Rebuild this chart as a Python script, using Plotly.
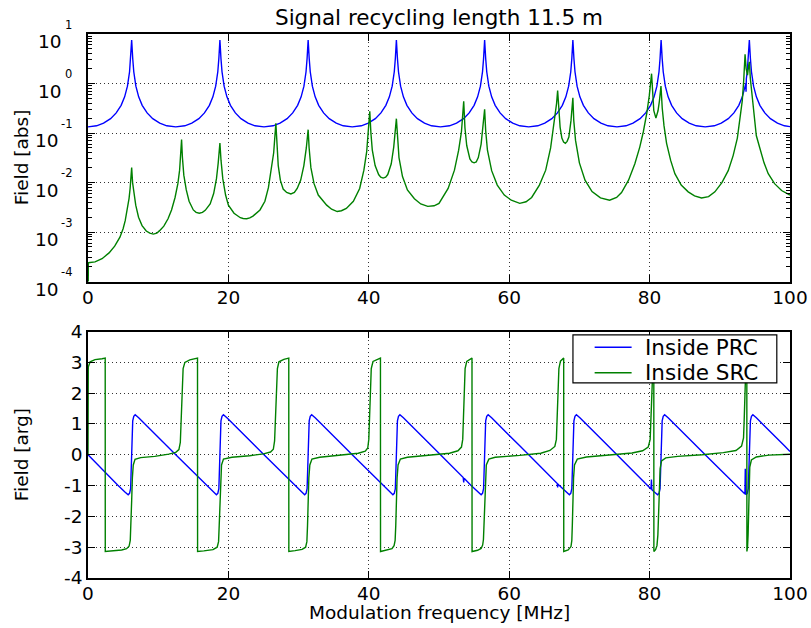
import plotly.graph_objects as go

# ---------------- data ----------------
# |field| inside the power-recycling cavity (PRC)
prc_abs_freq = [
    0.0, 1.22, 2.22, 3.22, 4.02, 4.72, 5.22, 5.62, 5.92, 6.07, 6.22, 6.37, 6.52, 6.82, 7.22, 7.72, 8.42, 9.22, 10.22, 11.22,
    12.5, 13.79, 14.79, 15.79, 16.59, 17.29, 17.79, 18.19, 18.49, 18.64, 18.79, 18.94, 19.09, 19.39, 19.79, 20.29, 20.99, 21.79, 22.79, 23.79,
    25.07, 26.36, 27.36, 28.36, 29.16, 29.86, 30.36, 30.76, 31.06, 31.21, 31.36, 31.51, 31.66, 31.96, 32.36, 32.86, 33.56, 34.36, 35.36, 36.36,
    37.64, 38.93, 39.93, 40.93, 41.73, 42.43, 42.93, 43.33, 43.63, 43.78, 43.93, 44.08, 44.23, 44.53, 44.93, 45.43, 46.13, 46.93, 47.93, 48.93,
    50.21, 51.5, 52.5, 53.5, 54.3, 55.0, 55.5, 55.9, 56.2, 56.35, 56.5, 56.65, 56.8, 57.1, 57.5, 58.0, 58.7, 59.5, 60.5, 61.5,
    62.78, 64.07, 65.07, 66.07, 66.87, 67.57, 68.07, 68.47, 68.77, 68.92, 69.07, 69.22, 69.37, 69.67, 70.07, 70.57, 71.27, 72.07, 73.07, 74.07,
    75.35, 76.64, 77.64, 78.64, 79.44, 80.14, 80.64, 81.04, 81.34, 81.49, 81.64, 81.79, 81.94, 82.24, 82.64, 83.14, 83.84, 84.64, 85.64, 86.64,
    87.92, 89.21, 90.21, 91.21, 92.01, 92.71, 93.21, 93.61, 93.70, 93.74, 93.78, 93.91, 94.06, 94.21, 94.36, 94.51, 94.81, 95.21, 95.71, 96.41, 97.21, 98.21, 99.21,
    100.0,
]
prc_abs = [
    0.133, 0.140, 0.158, 0.195, 0.255, 0.363, 0.537, 0.885, 1.73, 3.21, 7.59, 3.21, 1.73, 0.885, 0.537, 0.363, 0.255, 0.195, 0.158, 0.140,
    0.133, 0.140, 0.158, 0.195, 0.255, 0.363, 0.537, 0.885, 1.73, 3.21, 7.59, 3.21, 1.73, 0.885, 0.537, 0.363, 0.255, 0.195, 0.158, 0.140,
    0.133, 0.140, 0.158, 0.195, 0.255, 0.363, 0.537, 0.885, 1.73, 3.21, 7.59, 3.21, 1.73, 0.885, 0.537, 0.363, 0.255, 0.195, 0.158, 0.140,
    0.133, 0.140, 0.158, 0.195, 0.255, 0.363, 0.537, 0.885, 1.73, 3.21, 7.59, 3.21, 1.73, 0.885, 0.537, 0.363, 0.255, 0.195, 0.158, 0.140,
    0.133, 0.140, 0.158, 0.195, 0.255, 0.363, 0.537, 0.885, 1.73, 3.21, 7.59, 3.21, 1.73, 0.885, 0.537, 0.363, 0.255, 0.195, 0.158, 0.140,
    0.133, 0.140, 0.158, 0.195, 0.255, 0.363, 0.537, 0.885, 1.73, 3.21, 7.59, 3.21, 1.73, 0.885, 0.537, 0.363, 0.255, 0.195, 0.158, 0.140,
    0.133, 0.140, 0.158, 0.195, 0.255, 0.363, 0.537, 0.885, 1.73, 3.21, 7.59, 3.21, 1.73, 0.885, 0.537, 0.363, 0.255, 0.195, 0.158, 0.140,
    0.133, 0.140, 0.158, 0.195, 0.255, 0.363, 0.537, 0.885, 1.00, 0.68, 1.25, 1.73, 3.21, 7.59, 3.21, 1.73, 0.885, 0.537, 0.363, 0.255, 0.195, 0.158, 0.140,
    0.135,
]

# |field| inside the signal-recycling cavity (SRC)
src_abs_freq = [
    0.0, 0.05, 1.0, 2.0, 3.0, 3.8, 4.55, 5.0, 5.3, 5.6, 5.85, 6.0, 6.1, 6.22, 6.35, 6.5, 6.8, 7.2, 7.7, 8.3, 8.8,
    9.3, 9.8, 10.2, 10.8, 11.4, 11.9, 12.4, 12.8, 13.05, 13.2, 13.33, 13.45, 13.65, 14.0, 14.4, 15.0, 15.4,
    15.85, 16.3, 16.7, 17.4, 17.9, 18.3, 18.55, 18.79, 18.95, 19.2, 19.6, 20.0, 20.8, 21.7, 22.1,
    22.6, 23.05, 23.5, 24.5, 25.2, 25.7, 26.1, 26.45, 26.76, 26.9, 27.1, 27.4, 27.8, 28.3,
    28.9, 29.4, 29.8, 30.3, 30.75, 31.1, 31.36, 31.5, 31.75, 32.2, 32.8, 34.0, 34.7,
    35.5, 36.1, 36.8, 37.8, 38.7, 39.3, 39.7, 39.95, 40.14, 40.3, 40.5, 40.9, 41.4, 41.7,
    42.04, 42.4, 42.7, 43.2, 43.55, 43.93, 44.08, 44.3, 44.8, 45.5, 46.5, 47.4,
    48.4, 49.3, 50.0, 51.3, 52.2, 52.8, 53.2, 53.52, 53.7, 53.95, 54.4, 54.7,
    55.0, 55.3, 55.6, 56.0, 56.5, 56.65, 56.9, 57.5, 58.3, 59.3, 60.3,
    61.5, 62.4, 63.2, 64.3, 65.2, 65.9, 66.45, 66.75, 66.9, 67.05, 67.25, 67.5, 67.75,
    68.0, 68.25, 68.5, 68.8, 69.07, 69.2, 69.45, 70.0, 70.8, 71.8, 73.0,
    74.3, 75.3, 76.0, 77.0, 77.9, 78.6, 79.1, 79.6, 79.95, 80.28, 80.45, 80.6,
    80.9, 81.2, 81.4, 81.62, 81.8, 82.05, 82.42, 83.0, 83.6, 84.5, 85.5, 86.4,
    87.4, 88.4, 89.3, 90.3, 91.2, 91.9, 92.5, 92.9, 93.2, 93.4, 93.6, 93.75,
    93.95, 94.1, 94.21, 94.35, 94.55, 94.8, 95.2, 95.7, 96.3, 96.9, 97.8, 98.8, 100.0,
]
src_abs = [
    1.0e-5, 2.4e-4, 2.5e-4, 2.9e-4, 3.8e-4, 5.2e-4, 7.9e-4, 1.17e-3, 1.7e-3, 2.8e-3, 4.8e-3, 7.6e-3, 1.05e-2, 2.0e-2, 1.0e-2, 6.6e-3, 3.5e-3, 2.0e-3, 1.35e-3, 1.05e-3, 9.5e-4,
    9.1e-4, 9.5e-4, 1.07e-3, 1.32e-3, 1.86e-3, 2.8e-3, 5.0e-3, 9.5e-3, 1.78e-2, 3.3e-2, 7.4e-2, 3.2e-2, 1.41e-2, 7.1e-3, 4.2e-3, 2.8e-3, 2.5e-3,
    2.4e-3, 2.5e-3, 2.75e-3, 3.7e-3, 6.0e-3, 1.2e-2, 2.5e-2, 6.3e-2, 2.8e-2, 1.2e-2, 5.6e-3, 3.5e-3, 2.4e-3, 1.95e-3, 1.88e-3,
    1.86e-3, 1.93e-3, 2.1e-3, 2.8e-3, 4.2e-3, 7.9e-3, 1.78e-2, 4.0e-2, 0.158, 6.3e-2, 2.2e-2, 1.12e-2, 7.4e-3, 6.3e-3,
    5.9e-3, 6.3e-3, 7.6e-3, 1.12e-2, 2.2e-2, 5.0e-2, 0.117, 5.0e-2, 2.0e-2, 9.5e-3, 5.6e-3, 3.5e-3, 2.9e-3,
    2.6e-3, 2.7e-3, 3.0e-3, 4.2e-3, 7.6e-3, 1.78e-2, 4.2e-2, 0.10, 0.275, 0.10, 4.5e-2, 2.2e-2, 1.45e-2, 1.29e-2,
    1.23e-2, 1.29e-2, 1.45e-2, 2.4e-2, 5.2e-2, 0.195, 8.9e-2, 3.2e-2, 1.32e-2, 7.1e-3, 4.7e-3, 3.7e-3,
    3.3e-3, 3.4e-3, 3.8e-3, 7.6e-3, 1.78e-2, 4.5e-2, 0.107, 0.437, 0.126, 5.6e-2, 3.0e-2, 2.6e-2,
    2.5e-2, 2.6e-2, 3.2e-2, 6.0e-2, 0.302, 0.112, 4.5e-2, 1.74e-2, 8.9e-3, 5.6e-3, 4.4e-3,
    3.8e-3, 4.1e-3, 5.0e-3, 8.9e-3, 1.78e-2, 5.0e-2, 0.178, 0.398, 0.724, 0.282, 0.132, 7.9e-2, 6.6e-2,
    6.2e-2, 6.8e-2, 8.3e-2, 0.178, 0.513, 0.178, 7.1e-2, 2.5e-2, 1.12e-2, 6.6e-3, 4.9e-3,
    4.4e-3, 5.0e-3, 6.3e-3, 1.12e-2, 2.4e-2, 5.2e-2, 0.105, 0.251, 0.562, 1.58, 0.447, 0.282,
    0.20, 0.282, 0.447, 0.891, 0.316, 0.141, 6.2e-2, 2.8e-2, 1.51e-2, 8.9e-3, 6.5e-3, 5.4e-3,
    4.9e-3, 5.2e-3, 6.5e-3, 1.0e-2, 1.74e-2, 3.5e-2, 7.9e-2, 0.20, 0.447, 1.12, 3.9, 2.0,
    1.48, 2.24, 2.75, 1.26, 0.631, 0.251, 8.9e-2, 5.0e-2, 2.5e-2, 1.51e-2, 9.5e-3, 6.9e-3, 5.6e-3,
]

# arg(field) inside the PRC, radians
prc_arg_freq = [
    0.0, 1.22, 2.22, 3.22, 4.22, 5.22, 5.72, 5.92, 6.07, 6.22, 6.37, 6.52, 6.72, 7.22, 8.22, 9.22, 10.22, 11.22,
    12.5, 13.79, 14.79, 15.79, 16.79, 17.79, 18.29, 18.49, 18.64, 18.79, 18.94, 19.09, 19.29, 19.79, 20.79, 21.79, 22.79, 23.79,
    25.07, 26.36, 27.36, 28.36, 29.36, 30.36, 30.86, 31.06, 31.21, 31.36, 31.51, 31.66, 31.86, 32.36, 33.36, 34.36, 35.36, 36.36,
    37.64, 38.93, 39.93, 40.93, 41.93, 42.93, 43.43, 43.63, 43.78, 43.93, 44.08, 44.23, 44.43, 44.93, 45.93, 46.93, 47.93, 48.93,
    50.21, 51.5, 52.5, 53.45, 53.52, 53.58, 54.5, 55.5, 56.0, 56.2, 56.35, 56.5, 56.65, 56.8, 57.0, 57.5, 58.5, 59.5, 60.5, 61.5,
    62.78, 64.07, 65.07, 66.07, 66.85, 66.9, 66.95, 67.07, 68.07, 68.57, 68.77, 68.92, 69.07, 69.22, 69.37, 69.57, 70.07, 71.07, 72.07, 73.07, 74.07,
    75.35, 76.64, 77.64, 78.64, 79.64, 80.2, 80.26, 80.32, 80.64, 81.14, 81.34, 81.49, 81.64, 81.79, 81.94, 82.14, 82.64, 83.64, 84.64, 85.64, 86.64,
    87.92, 89.21, 90.21, 91.21, 92.21, 93.21, 93.58, 93.63, 93.67, 93.71, 93.91, 94.06, 94.21, 94.36, 94.51, 94.71, 95.21, 96.21, 97.21, 98.21, 99.21,
    100.0,
]
prc_arg = [
    0.0, -0.29, -0.52, -0.75, -0.98, -1.20, -1.30, -1.25, -1.10, 0.0, 1.10, 1.25, 1.30, 1.20, 0.98, 0.75, 0.52, 0.29,
    0.0, -0.29, -0.52, -0.75, -0.98, -1.20, -1.30, -1.25, -1.10, 0.0, 1.10, 1.25, 1.30, 1.20, 0.98, 0.75, 0.52, 0.29,
    0.0, -0.29, -0.52, -0.75, -0.98, -1.20, -1.30, -1.25, -1.10, 0.0, 1.10, 1.25, 1.30, 1.20, 0.98, 0.75, 0.52, 0.29,
    0.0, -0.29, -0.52, -0.75, -0.98, -1.20, -1.30, -1.25, -1.10, 0.0, 1.10, 1.25, 1.30, 1.20, 0.98, 0.75, 0.52, 0.29,
    0.0, -0.29, -0.52, -0.74, -0.90, -0.76, -0.98, -1.20, -1.30, -1.25, -1.10, 0.0, 1.10, 1.25, 1.30, 1.20, 0.98, 0.75, 0.52, 0.29,
    0.0, -0.29, -0.52, -0.75, -0.93, -1.06, -0.95, -0.98, -1.20, -1.30, -1.25, -1.10, 0.0, 1.10, 1.25, 1.30, 1.20, 0.98, 0.75, 0.52, 0.29,
    0.0, -0.29, -0.52, -0.75, -0.98, -1.11, -0.80, -1.13, -1.20, -1.30, -1.25, -1.10, 0.0, 1.10, 1.25, 1.30, 1.20, 0.98, 0.75, 0.52, 0.29,
    0.0, -0.29, -0.52, -0.75, -0.98, -1.20, -1.27, -0.45, -1.15, -1.30, -1.25, -1.10, 0.0, 1.10, 1.25, 1.30, 1.20, 0.98, 0.75, 0.52, 0.29,
    0.11,
]

# arg(field) inside the SRC, radians (wrapped to +-pi)
src_arg_freq = [
    0.0, 0.04, 0.3, 1.0, 2.0, 2.45, 2.46, 3.5, 4.8, 5.5, 5.85, 6.02, 6.12, 6.22, 6.32, 6.45, 6.7, 7.5, 9.5, 11.5,
    12.5, 12.95, 13.15, 13.25, 13.33, 13.42, 13.55, 13.8, 14.5, 15.6, 15.61, 16.5, 17.8, 18.4, 18.6, 18.69, 18.79, 18.89, 19.02, 19.3, 20.5, 23.0,
    25.0, 26.0, 26.4, 26.58, 26.68, 26.76, 26.85, 26.98, 27.2, 27.9, 28.6, 28.61, 29.5, 30.5, 31.0, 31.18, 31.27, 31.36, 31.46, 31.6, 31.9, 33.0, 36.0,
    38.5, 39.5, 39.85, 40.0, 40.07, 40.14, 40.22, 40.35, 40.6, 41.2, 41.66, 41.67, 42.5, 43.3, 43.6, 43.75, 43.84, 43.93, 44.03, 44.17, 44.5, 45.5, 48.5,
    51.5, 52.7, 53.2, 53.38, 53.45, 53.52, 53.6, 53.72, 53.95, 54.4, 54.7, 54.71, 55.5, 56.0, 56.22, 56.33, 56.41, 56.5, 56.6, 56.74, 57.1, 58.0, 61.5,
    64.5, 65.8, 66.5, 66.72, 66.8, 66.88, 66.96, 67.08, 67.3, 67.76, 67.77, 68.4, 68.8, 68.92, 68.99, 69.07, 69.17, 69.3, 69.7, 71.0, 74.5,
    77.5, 79.0, 79.8, 80.08, 80.16, 80.24, 80.31, 80.4, 80.5, 80.6, 80.61, 80.85, 81.05, 81.18, 81.28, 81.38, 81.5, 81.7, 82.3, 84.0, 87.5,
    90.5, 92.3, 93.1, 93.38, 93.47, 93.55, 93.63, 93.72, 93.85, 93.86, 93.95, 94.03, 94.1, 94.17, 94.27, 94.5, 95.2, 97.0, 100.0,
]
src_arg = [
    0.0, 2.85, 3.02, 3.09, 3.12, 3.14, -3.14, -3.12, -3.09, -3.05, -2.97, -2.78, -2.3, -1.5, -0.75, -0.33, -0.15, -0.09, -0.05, 0.02,
    0.08, 0.17, 0.4, 0.95, 1.6, 2.3, 2.8, 3.0, 3.08, 3.14, -3.14, -3.12, -3.08, -3.0, -2.82, -2.3, -1.5, -0.75, -0.33, -0.14, -0.08, -0.03,
    0.03, 0.09, 0.18, 0.45, 1.0, 1.6, 2.3, 2.8, 3.02, 3.1, 3.14, -3.14, -3.11, -3.07, -3.0, -2.82, -2.3, -1.5, -0.75, -0.33, -0.14, -0.08, -0.02,
    0.05, 0.12, 0.22, 0.5, 1.0, 1.6, 2.3, 2.8, 3.03, 3.1, 3.14, -3.14, -3.1, -3.05, -2.95, -2.78, -2.3, -1.5, -0.75, -0.33, -0.14, -0.08, -0.02,
    0.05, 0.13, 0.25, 0.5, 1.0, 1.6, 2.3, 2.8, 3.03, 3.1, 3.14, -3.14, -3.1, -3.04, -2.93, -2.75, -2.3, -1.5, -0.75, -0.33, -0.14, -0.08, -0.02,
    0.05, 0.14, 0.27, 0.5, 1.0, 1.6, 2.3, 2.8, 3.04, 3.14, -3.14, -3.09, -2.98, -2.78, -2.3, -1.5, -0.75, -0.33, -0.14, -0.07, -0.01,
    0.06, 0.13, 0.25, 0.5, 1.0, 1.6, 2.3, 2.8, 3.05, 3.14, -3.14, -3.08, -2.95, -2.6, -1.9, -1.0, -0.45, -0.2, -0.1, -0.05, 0.0,
    0.07, 0.14, 0.28, 0.55, 1.1, 1.8, 2.5, 2.95, 3.14, -3.14, -3.0, -2.6, -1.8, -0.9, -0.4, -0.17, -0.07, -0.01, 0.02,
]

series_names = ["Inside PRC", "Inside SRC"]
freq_ticks = [0, 20, 40, 60, 80, 100]
abs_decades = [1, 0, -1, -2, -3, -4]
arg_ticks = [4, 3, 2, 1, 0, -1, -2, -3, -4]

BLUE = "#0000ff"
GREEN = "#008000"
FONT = "DejaVu Sans"

# ---------------- figure geometry (pixels) ----------------
W, H = 811, 628
L_M, R_M, T_M, B_M = 88, 20.5, 34, 49.8
plot_w = W - L_M - R_M
plot_h = H - T_M - B_M
top_domain = [(578.2 - 281.7) / plot_h, 1.0]
bot_domain = [0.0, (578.2 - 331.7) / plot_h]


def px_x(px):
    return (px - L_M) / plot_w


def px_y(py):
    return (H - B_M - py) / plot_h


fig = go.Figure()
line_w = 1.4
colors = [BLUE, GREEN]
fig.add_trace(go.Scatter(x=prc_abs_freq, y=prc_abs, mode="lines", line=dict(color=BLUE, width=line_w),
                         xaxis="x", yaxis="y", showlegend=False, name=series_names[0]))
fig.add_trace(go.Scatter(x=src_abs_freq, y=src_abs, mode="lines", line=dict(color=GREEN, width=line_w),
                         xaxis="x", yaxis="y", showlegend=False, name=series_names[1]))
fig.add_trace(go.Scatter(x=prc_arg_freq, y=prc_arg, mode="lines", line=dict(color=BLUE, width=line_w),
                         xaxis="x2", yaxis="y2", showlegend=False, name=series_names[0]))
fig.add_trace(go.Scatter(x=src_arg_freq, y=src_arg, mode="lines", line=dict(color=GREEN, width=line_w),
                         xaxis="x2", yaxis="y2", showlegend=False, name=series_names[1]))

tick_font = dict(family=FONT, size=18.5, color="black")
frame = dict(showline=True, linecolor="black", linewidth=1.5, mirror="allticks",
             ticks="inside", ticklen=7, tickwidth=1, tickcolor="black",
             showgrid=True, gridcolor="#333333", gridwidth=1, griddash="1px,3px",
             zeroline=False, tickfont=tick_font, automargin=False)

xcommon = dict(frame, range=[0, 100], tickvals=freq_ticks, ticktext=[str(v) for v in freq_ticks],
               ticklabelstandoff=-2)

minor_abs = [m * 10.0 ** d for d in range(-4, 1) for m in range(2, 10)]

fig.update_layout(
    width=W, height=H,
    margin=dict(l=L_M, r=R_M, t=T_M, b=B_M, pad=0, autoexpand=False),
    paper_bgcolor="white", plot_bgcolor="white",
    font=dict(family=FONT, color="black"),
    showlegend=False,
    xaxis=dict(xcommon, anchor="y", domain=[0, 1]),
    yaxis=dict(frame, type="log", range=[-4, 1], anchor="x", domain=top_domain,
               tickvals=[10.0 ** d for d in abs_decades], showticklabels=False,
               minor=dict(tickvals=minor_abs, ticks="inside", ticklen=4, tickwidth=1,
                          tickcolor="black", showgrid=False)),
    xaxis2=dict(xcommon, anchor="y2", domain=[0, 1]),
    yaxis2=dict(frame, range=[-4, 4], anchor="x2", domain=bot_domain,
                tickvals=arg_ticks, ticktext=[str(v) for v in arg_ticks]),
)

annotations = []
# decade labels of the log axis: "10" with a raised exponent
for d in abs_decades:
    annotations.append(dict(text=str(d), xref="paper", yref="y", x=0, y=d,
                            xanchor="right", yanchor="middle", xshift=-(L_M - 73.5), yshift=9.5,
                            showarrow=False, font=dict(family=FONT, size=11.5, color="black")))
    base_right = 64.3 if d >= 0 else 61.0
    annotations.append(dict(text="10", xref="paper", yref="y", x=0, y=d,
                            xanchor="right", yanchor="middle", xshift=-(L_M - base_right), yshift=-7.8,
                            showarrow=False, font=dict(family=FONT, size=18.5, color="black")))

annotations.append(dict(text="Signal recycling length 11.5 m", xref="paper", yref="paper",
                        x=0.5, y=1, xanchor="center", yanchor="middle", yshift=17,
                        showarrow=False, font=dict(family=FONT, size=21.5, color="black")))
annotations.append(dict(text="Field [abs]", xref="paper", yref="paper",
                        x=0, y=(top_domain[0] + top_domain[1]) / 2, xanchor="center", yanchor="middle",
                        xshift=-(L_M - 21.5), textangle=-90,
                        showarrow=False, font=dict(family=FONT, size=18.5, color="black")))
annotations.append(dict(text="Field [arg]", xref="paper", yref="paper",
                        x=0, y=(bot_domain[0] + bot_domain[1]) / 2, xanchor="center", yanchor="middle",
                        xshift=-(L_M - 21.5), textangle=-90,
                        showarrow=False, font=dict(family=FONT, size=18.5, color="black")))
annotations.append(dict(text="Modulation frequency [MHz]", xref="paper", yref="paper",
                        x=0.5, y=0, xanchor="center", yanchor="middle", yshift=-(613 - 578.2),
                        showarrow=False, font=dict(family=FONT, size=18.5, color="black")))

# legend key for the phase panel: framed box, line samples and labels
row_y = [347.3, 372.8]
shapes = [dict(type="rect", xref="paper", yref="paper",
               x0=px_x(573.3), x1=px_x(777.3), y0=px_y(383), y1=px_y(335),
               line=dict(color="black", width=1.2), fillcolor="white", layer="above")]
for name, col, ky in zip(series_names, colors, row_y):
    shapes.append(dict(type="line", xref="paper", yref="paper",
                       x0=px_x(595), x1=px_x(632), y0=px_y(ky), y1=px_y(ky),
                       line=dict(color=col, width=1.4), layer="above"))
    annotations.append(dict(text=name, xref="paper", yref="paper", x=px_x(644), y=px_y(ky),
                            xanchor="left", yanchor="middle", showarrow=False, borderpad=0,
                            font=dict(family=FONT, size=21.5, color="black")))

fig.update_layout(annotations=annotations, shapes=shapes)

fig.write_html("out.html")
